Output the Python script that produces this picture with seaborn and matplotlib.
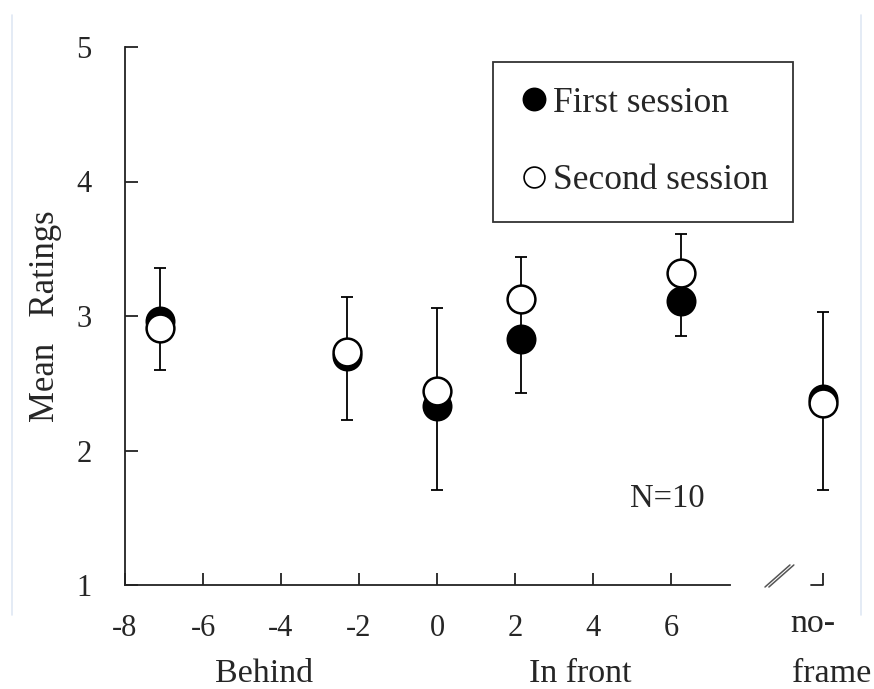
import matplotlib
matplotlib.use('Agg')
import matplotlib.pyplot as plt
import seaborn as sns
import pandas as pd
from matplotlib.lines import Line2D

# ---------------- data ----------------
conditions = ['-7', '-2', '0', '2', '6', 'no-frame']
x_pos = [-7.1, -2.3, 0.0, 2.15, 6.25, 9.9]
first_session = [2.96, 2.70, 2.33, 2.83, 3.11, 2.38]
second_session = [2.91, 2.73, 2.44, 3.13, 3.32, 2.35]
err_low = [2.60, 2.23, 1.71, 2.43, 2.85, 1.71]
err_high = [3.36, 3.14, 3.06, 3.44, 3.61, 3.03]

xtick_vals = [-8, -6, -4, -2, 0, 2, 4, 6, 9.9]
xtick_labels = ['-8', '-6', '-4', '-2', '0', '2', '4', '6', '']
ytick_vals = [1, 2, 3, 4, 5]
ytick_labels = ['1', '2', '3', '4', '5']

df = pd.DataFrame({
    'x': x_pos * 2,
    'rating': first_session + second_session,
    'session': ['First session'] * len(x_pos) + ['Second session'] * len(x_pos),
})

# ---------------- style ----------------
sns.set_style('white')
plt.rcParams['font.family'] = ['Liberation Serif', 'DejaVu Serif']
plt.rcParams['axes.unicode_minus'] = False

W, H = 874, 689
fig = plt.figure(figsize=(W / 100, H / 100), dpi=100)
ax_left, ax_right = 125, 846.5
ax_top, ax_bottom = 47, 585
ax = fig.add_axes([ax_left / W, (H - ax_bottom) / H,
                   (ax_right - ax_left) / W, (ax_bottom - ax_top) / H])

# error bars (one per condition)
mid = [(lo + hi) / 2 for lo, hi in zip(err_low, err_high)]
half_lo = [m - lo for m, lo in zip(mid, err_low)]
half_hi = [hi - m for m, hi in zip(mid, err_high)]
ax.errorbar(x_pos, mid, yerr=[half_lo, half_hi], fmt='none', ecolor='black',
            elinewidth=1.3, capsize=4, capthick=1.3, zorder=2)

# points
sns.scatterplot(data=df[df.session == 'First session'], x='x', y='rating',
                color='black', edgecolor='black', linewidth=1.6, s=400,
                ax=ax, zorder=3, legend=False)
sns.scatterplot(data=df[df.session == 'Second session'], x='x', y='rating',
                color='white', edgecolor='black', linewidth=1.8, s=400,
                ax=ax, zorder=4, legend=False)

# axes
ax.set_xlim(-8, 10.5)
ax.set_ylim(1, 5)
ax.set_xticks(xtick_vals)
ax.set_xticklabels(xtick_labels, fontsize=22)
ax.set_yticks(ytick_vals)
ax.set_yticklabels(ytick_labels, fontsize=22)
ax.tick_params(axis='both', direction='in', length=9, width=1.3, color='#222222',
               bottom=True, left=True, top=False, right=False)
ax.tick_params(axis='x', pad=21)
ax.tick_params(axis='y', pad=24)
ax.set_xlabel('')
ax.set_ylabel('Mean   Ratings', fontsize=25)
ax.yaxis.set_label_coords(-0.087, 0.5)

for s in ['top', 'right']:
    ax.spines[s].set_visible(False)
for s in ['left', 'bottom']:
    ax.spines[s].set_linewidth(1.3)
    ax.spines[s].set_color('#222222')
ax.spines['bottom'].set_bounds(-8, 7.5)

# short axis piece at no-frame and break marks
ax.plot([9.6, 9.9], [1, 1], color='#222222', lw=1.3, clip_on=False, zorder=5)
for dx in [0.0, 0.1]:
    ax.plot([8.41 + dx, 9.05 + dx], [0.985, 1.149], color='#555555', lw=1.1,
            clip_on=False, zorder=5)

# text annotations
ax.text(-4.44, 0.28, 'Behind', fontsize=24.5, ha='center', va='baseline')
ax.text(3.67, 0.28, 'In front', fontsize=24.5, ha='center', va='baseline')
ax.text(9.05, 0.648, 'no-', fontsize=24.5, ha='left', va='baseline')
ax.text(9.1, 0.28, 'frame', fontsize=24.5, ha='left', va='baseline')
ax.text(5.9, 1.58, 'N=10', fontsize=23.5, ha='center', va='baseline')

# legend
handles = [
    Line2D([], [], marker='o', linestyle='none', markersize=16,
           markerfacecolor='black', markeredgecolor='black', markeredgewidth=1.2),
    Line2D([], [], marker='o', linestyle='none', markersize=15,
           markerfacecolor='white', markeredgecolor='black', markeredgewidth=1.2),
]
lx = (493 - ax_left) / (ax_right - ax_left)
ly = (ax_bottom - 62) / (ax_bottom - ax_top)
leg = ax.legend(handles, ['First session', 'Second session'], loc='upper left',
                bbox_to_anchor=(lx, ly), borderaxespad=0, fontsize=25.5,
                frameon=True, fancybox=False, edgecolor='black',
                borderpad=0.7, labelspacing=1.25, handlelength=0.9,
                handletextpad=0.1)
leg.get_frame().set_linewidth(1.3)

# faint border lines of the source page
for px in [12, 861]:
    fig.add_artist(Line2D([px / W, px / W], [1 - 15 / H, 1 - 615 / H],
                          color='#dfe8f4', lw=1.2))

fig.savefig('out.png', dpi=100)
